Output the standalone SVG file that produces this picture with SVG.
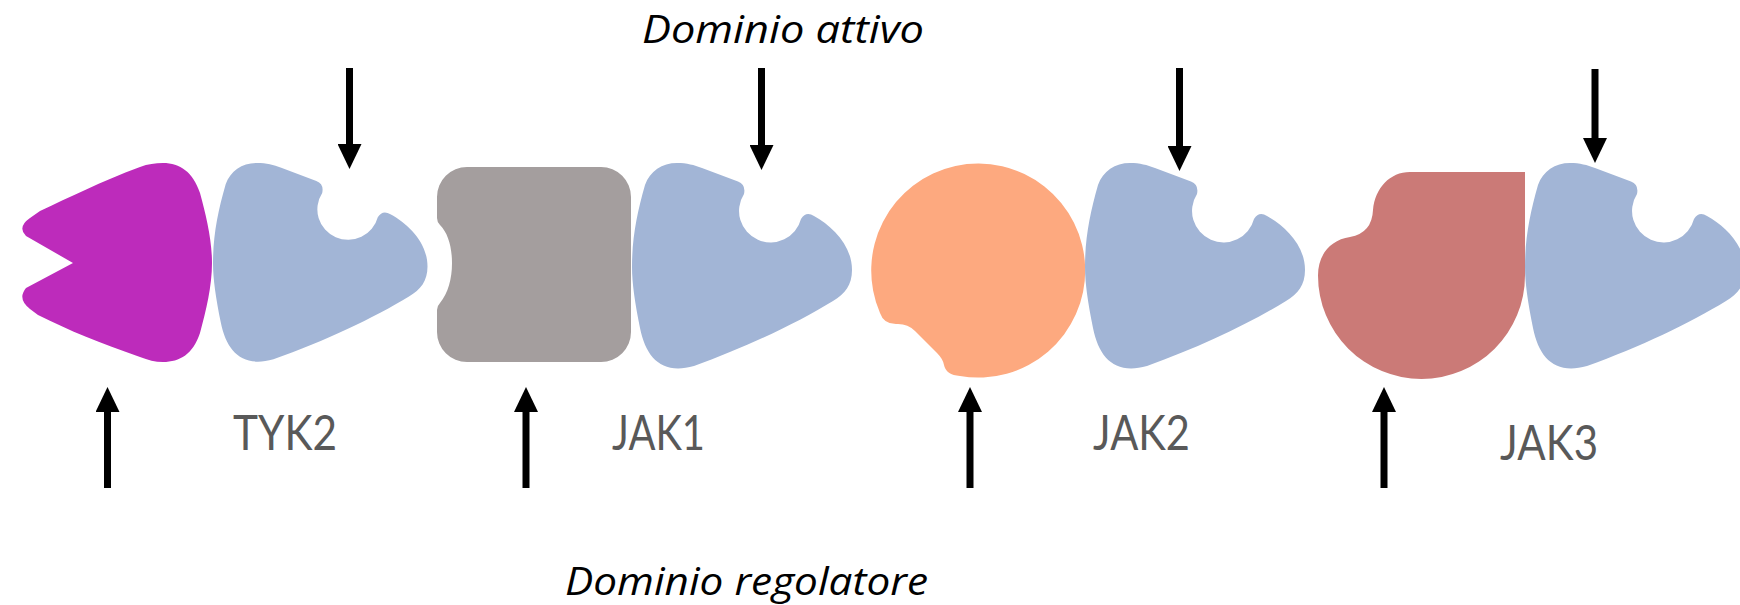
<svg xmlns="http://www.w3.org/2000/svg" width="1740" height="605" viewBox="0 0 1740 605">
  <style>
    .kinase { fill: #A2B5D6; }
    .label { font-family: "Lato", "Open Sans", "Liberation Sans", sans-serif; font-size: 48px; fill: #595959; }
    .title { font-family: "Open Sans", "Liberation Sans", sans-serif; font-style: italic; font-size: 39px; fill: #000000; }
    .arrow { stroke: #000000; stroke-width: 7; fill: none; marker-end: url(#head); }
  </style>
  <defs>
    <!-- blue kinase (JH1) domain with its binding pocket, drawn at origin -->
    <path id="kinase-shape" d="M 45,0 C 55,0 62,2 70,5 L 106,18.5 Q 114,21.5 112,31 A 31.5 31.5 0 1 0 169,56 Q 174,48 182,53 C 200,63 220,82 220,107 C 220,122 213,131 201,138 C 165,160 115,184 62,203 C 30,212 14,195 8,165 C 3,140 0,120 0,104 C 0,75 5,50 13,22 C 18,8 30,0 45,0 Z"/>
    <marker id="head" markerUnits="userSpaceOnUse" markerWidth="25" markerHeight="24" viewBox="0 0 25 24" refX="3" refY="12" orient="auto">
      <path d="M0,0 L25,12 L0,24 Z" fill="#000000"/>
    </marker>
  </defs>

  <!-- TYK2 -->
  <g id="tyk2">
    <path d="M 163,163 C 180,163 193,172 200,193 C 206,215 212,240 212,263 C 212,286 206,311 200,333 C 193,354 180,362 163,362 C 155,362 148,360 140,357 C 100,343 70,331 38,315 L 30,309 Q 17,299 26,288 L 73,263 L 26,236 Q 17,227 30,218 L 40,211 C 70,197 100,182 140,167 C 148,164 155,163 163,163 Z" fill="#BD2BBB"/>
    <use href="#kinase-shape" class="kinase" transform="translate(213,163) scale(0.975,0.967)"/>
    <text class="label" x="233" y="450" textLength="104" lengthAdjust="spacingAndGlyphs">TYK2</text>
  </g>

  <!-- JAK1 -->
  <g id="jak1">
    <path d="M 467,167 H 601 A 30 30 0 0 1 631,197 V 332 A 30 30 0 0 1 601,362 H 467 A 30 30 0 0 1 437,332 V 310 Q 437,306 440,303 C 448,293 452,279 452,263 C 452,247 448,233 440,225 Q 437,222 437,218 V 197 A 30 30 0 0 1 467,167 Z" fill="#A49E9E"/>
    <use href="#kinase-shape" class="kinase" transform="translate(632,163)"/>
    <text class="label" x="612" y="450" textLength="93" lengthAdjust="spacingAndGlyphs">JAK1</text>
  </g>

  <!-- JAK2 -->
  <g id="jak2">
    <path d="M 880,313 Q 884,325 898,324 Q 908,324 915,331 L 937,353 Q 943,359 944,365 Q 946,375 960,376 A 107 107 0 1 0 880,313 Z" fill="#FDA97F"/>
    <use href="#kinase-shape" class="kinase" transform="translate(1085,163)"/>
    <text class="label" x="1093" y="450" textLength="97" lengthAdjust="spacingAndGlyphs">JAK2</text>
  </g>

  <!-- JAK3 -->
  <g id="jak3">
    <path d="M 1410,172 L 1525,172 L 1525,275.5 A 103.5 103.5 0 0 1 1318,275.5 C 1318,255 1330,240 1350,237 Q 1372,233 1373,210 C 1375,188 1390,172 1410,172 Z" fill="#CB7A77"/>
    <use href="#kinase-shape" class="kinase" transform="translate(1525,163)"/>
    <text class="label" x="1500" y="460" textLength="98" lengthAdjust="spacingAndGlyphs">JAK3</text>
  </g>

  <!-- arrows: active domain (top) and regulatory domain (bottom) -->
  <g id="connectors">
    <line class="arrow" x1="349.5" y1="68" x2="349.5" y2="147"/>
    <line class="arrow" x1="761.5" y1="68" x2="761.5" y2="148"/>
    <line class="arrow" x1="1179.5" y1="68" x2="1179.5" y2="149"/>
    <line class="arrow" x1="1595" y1="69" x2="1595" y2="141"/>
    <line class="arrow" x1="107.5" y1="488" x2="107.5" y2="409"/>
    <line class="arrow" x1="526" y1="488" x2="526" y2="409"/>
    <line class="arrow" x1="970" y1="488" x2="970" y2="409"/>
    <line class="arrow" x1="1384" y1="488" x2="1384" y2="409"/>
  </g>

  <text class="title" x="642" y="43" textLength="282" lengthAdjust="spacingAndGlyphs">Dominio attivo</text>
  <text class="title" x="565" y="595" textLength="363" lengthAdjust="spacingAndGlyphs">Dominio regolatore</text>
</svg>
